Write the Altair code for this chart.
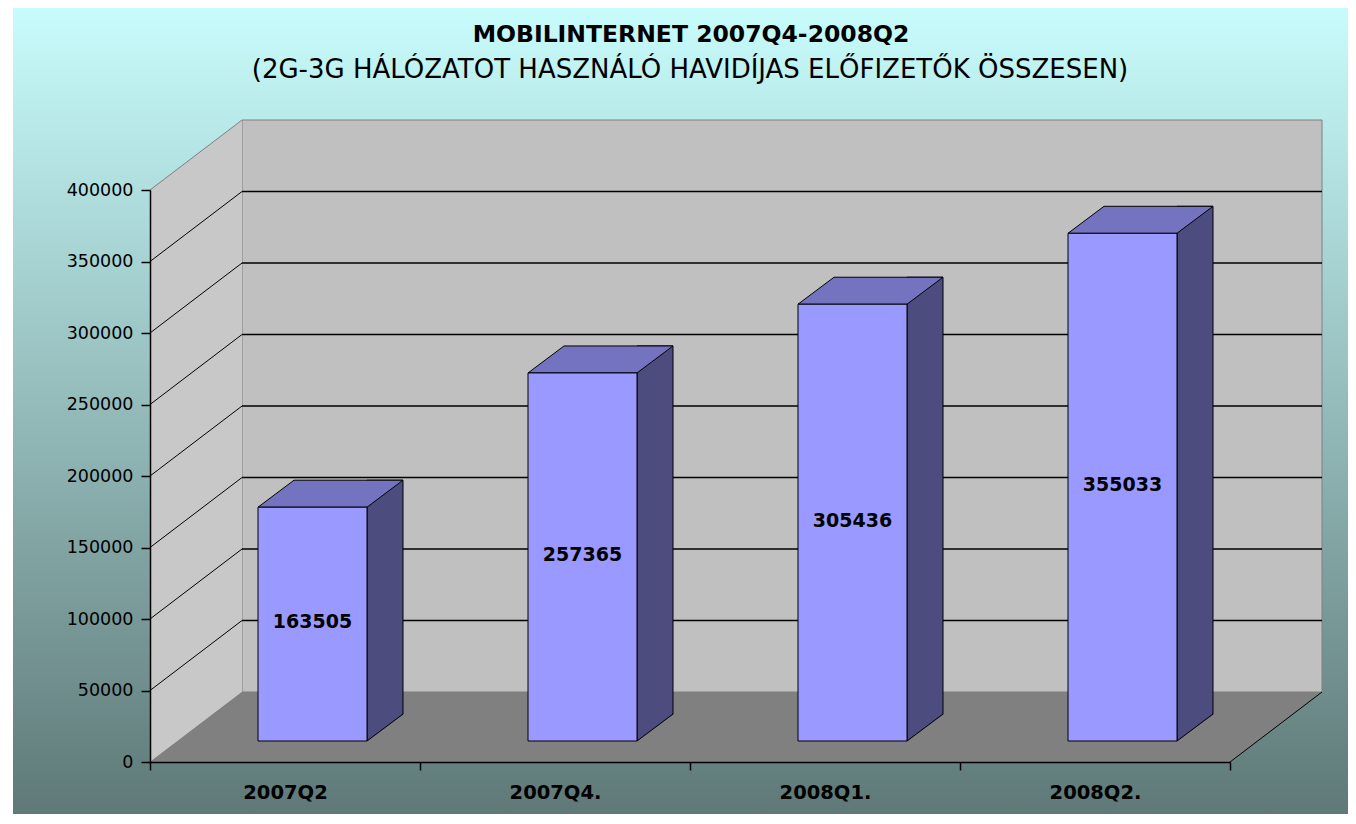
import altair as alt
import pandas as pd

# ---------------- data ----------------
categories = ["2007Q2", "2007Q4.", "2008Q1.", "2008Q2."]
subscribers = [163505, 257365, 305436, 355033]
y_ticks = [0, 50000, 100000, 150000, 200000, 250000, 300000, 350000, 400000]
grid_values = [50000, 100000, 150000, 200000, 250000, 300000, 350000]
title_text = "MOBILINTERNET 2007Q4-2008Q2"
subtitle_text = "(2G-3G HÁLÓZATOT HASZNÁLÓ HAVIDÍJAS ELŐFIZETŐK ÖSSZESEN)"

# ---------------- layout / style ----------------
W, H = 1080, 572            # front plane of the 3D box
DX, DY = 92, 70             # depth of the 3D box (pixels)
BAR_W = 109                 # bar front width
BSX, BSY = 27.5, 21         # shift of bar front plane
BDX, BDY = 36, 27           # bar depth
FONT = "DejaVu Sans"
FRONT, SIDE, TOP = "#9999FF", "#4C4C7F", "#7373C0"
WALL, LWALL, FLOOR = "#C0C0C0", "#C8C8C8", "#808080"


def sym(points, s):
    return "M " + " L ".join(f"{x / s:.4f} {y / s:.4f}" for x, y in points) + " Z"


def sym_open(points, s):
    return "M " + " L ".join(f"{x / s:.4f} {y / s:.4f}" for x, y in points)


df = pd.DataFrame({"cat": categories, "v": subscribers})
one = pd.DataFrame({"k": [0]})
grid_df = pd.DataFrame({"t": grid_values})
top_df = pd.DataFrame({"t": [400000]})
title_df = pd.DataFrame({"t": [title_text]})
subtitle_df = pd.DataFrame({"t": [subtitle_text]})

xs = alt.Scale(domain=categories, paddingInner=0, paddingOuter=0)
ys = alt.Scale(domain=[0, 400000], nice=False, zero=True)

x_axis = alt.Axis(title=None, tickBand="extent", labelAngle=0, labelFont=FONT,
                  labelFontWeight="bold", labelFontSize=19.5, labelColor="black",
                  labelPadding=13, tickSize=8, tickColor="black", tickWidth=1.5,
                  domainColor="black", domainWidth=1.5, zindex=2)
y_axis = alt.Axis(title=None, values=y_ticks, format="d", labelFont=FONT,
                  labelFontSize=17.5, labelColor="black", labelPadding=8,
                  tickSize=9, tickColor="black", tickWidth=1.5,
                  domainColor="black", domainWidth=1.5, grid=False, zindex=2)

Xn = alt.X("cat:N", scale=xs, sort=categories, axis=x_axis)


def Yf(field):
    return alt.Y(field, scale=ys, axis=y_axis)


def Yd(val):
    return alt.YDatum(val, scale=ys, axis=y_axis)


# background gradient
bg = alt.Chart(one).mark_rect(
    color=alt.Gradient(gradient="linear", x1=0, x2=0, y1=0, y2=1,
                       stops=[alt.GradientStop(color="#C8FCFC", offset=0),
                              alt.GradientStop(color="#5C7674", offset=1)])
).encode(x=alt.value(-137), x2=alt.value(W + 140),
         y=alt.value(-182), y2=alt.value(H + 70))

# back wall
back = alt.Chart(one).mark_rect(fill=WALL, stroke=FLOOR, strokeWidth=1,
                                yOffset=-DY, y2Offset=-DY).encode(
    x=alt.value(DX), x2=alt.value(W + DX), y=Yd(400000), y2=alt.datum(0))

# left wall
lw_pts = [(0, 0), (DX, -DY), (DX, H - DY), (0, H)]
lcx, lcy = DX / 2, H / 2 - DY / 2
lw_rel = [(x - lcx, y - lcy) for x, y in lw_pts]
ls = max(max(abs(a), abs(b)) for a, b in lw_rel)
left = alt.Chart(one).mark_point(shape=sym(lw_rel, ls), size=(2 * ls) ** 2,
                                 filled=True, color=LWALL, opacity=1,
                                 yOffset=-DY / 2).encode(
    x=alt.value(lcx), y=Yd(200000))

# floor
fl_pts = [(0, H), (DX, H - DY), (W + DX, H - DY), (W, H)]
fcx, fcy = (W + DX) / 2, H - DY / 2
fl_rel = [(x - fcx, y - fcy) for x, y in fl_pts]
fs = max(max(abs(a), abs(b)) for a, b in fl_rel)
floor = alt.Chart(one).mark_point(shape=sym(fl_rel, fs), size=(2 * fs) ** 2,
                                  filled=True, color=FLOOR, opacity=1,
                                  yOffset=-DY / 2).encode(
    x=alt.value(fcx), y=Yd(0))

# back wall gridlines
bgrid = alt.Chart(grid_df).mark_rule(color="black", strokeWidth=1.5, yOffset=-DY).encode(
    x=alt.value(DX), x2=alt.value(W + DX), y=Yf("t:Q"))

# left wall diagonals
lgrid = alt.Chart(grid_df).mark_rule(color="black", strokeWidth=1, y2Offset=-DY).encode(
    x=alt.value(0), x2=alt.value(DX), y=Yf("t:Q"), y2="t:Q")
ltop = alt.Chart(top_df).mark_rule(color=FLOOR, strokeWidth=1, y2Offset=-DY).encode(
    x=alt.value(0), x2=alt.value(DX), y=Yf("t:Q"), y2="t:Q")

# floor right edge
fedge = alt.Chart(one).mark_rule(color="black", strokeWidth=1, y2Offset=-DY).encode(
    x=alt.value(W), x2=alt.value(W + DX), y=Yd(0), y2=alt.datum(0))

# bar side faces
side_xoff = BSX + BAR_W / 2 + BDX / 2
side = alt.Chart(df).mark_bar(width=BDX, color=SIDE, stroke="black", strokeWidth=1,
                              xOffset=side_xoff, yOffset=-(BSY + BDY),
                              y2Offset=-BSY).encode(
    x=Xn, y=Yf("v:Q"), y2=alt.datum(0))

# cover the part of the side rectangle that lies below the bar's lower edge
tri_rel = [(-BDX / 2 - 1, BDY / 2 + 1), (BDX / 2 + 1.2, BDY / 2 + 1),
           (BDX / 2 + 1.2, -BDY / 2 - 0.3)]
ts = BDX / 2 + 2
cover = alt.Chart(df).mark_point(shape=sym(tri_rel, ts), size=(2 * ts) ** 2,
                                 filled=True, color=FLOOR, opacity=1,
                                 xOffset=side_xoff, yOffset=-BSY - BDY / 2).encode(
    x=Xn, y=Yd(0))
diag_rel = [(-BDX / 2, BDY / 2), (BDX / 2, -BDY / 2)]
dsz = BDX / 2
diag = alt.Chart(df).mark_point(shape=sym_open(diag_rel, dsz), size=(2 * dsz) ** 2,
                                filled=False, color="black", strokeWidth=1, opacity=1,
                                xOffset=side_xoff, yOffset=-BSY - BDY / 2).encode(
    x=Xn, y=Yd(0))

# bar top faces
tp_pts = [(0, 0), (BAR_W, 0), (BAR_W + BDX, -BDY), (BDX, -BDY)]
tcx, tcy = (BAR_W + BDX) / 2, -BDY / 2
tp_rel = [(x - tcx, y - tcy) for x, y in tp_pts]
tps = max(max(abs(a), abs(b)) for a, b in tp_rel)
top = alt.Chart(df).mark_point(shape=sym(tp_rel, tps), size=(2 * tps) ** 2,
                               filled=True, color=TOP, stroke="black", strokeWidth=1,
                               opacity=1, xOffset=BSX - BAR_W / 2 + tcx,
                               yOffset=-BSY + tcy).encode(
    x=Xn, y=Yf("v:Q"))

# bar front faces
front = alt.Chart(df).mark_bar(width=BAR_W, color=FRONT, stroke="black", strokeWidth=1,
                               xOffset=BSX, yOffset=-BSY, y2Offset=-BSY).encode(
    x=Xn, y=Yf("v:Q"), y2=alt.datum(0))

labels = alt.Chart(df).transform_calculate(mid="datum.v / 2").mark_text(
    font=FONT, fontSize=19, fontWeight="bold", color="black", baseline="middle",
    align="center", xOffset=BSX, yOffset=-BSY - 2).encode(
    x=Xn, y=Yf("mid:Q"), text=alt.Text("v:Q", format="d"))

title = alt.Chart(title_df).mark_text(font=FONT, fontSize=23.5, fontWeight="bold",
                                      color="black", align="center",
                                      baseline="alphabetic").encode(
    x=alt.value(W / 2 + 1), y=alt.value(-148.3), text="t:N")
subtitle = alt.Chart(subtitle_df).mark_text(font=FONT, fontSize=26, color="black",
                                            align="center", baseline="alphabetic").encode(
    x=alt.value(W / 2), y=alt.value(-111.7), text="t:N")

chart = alt.layer(
    bg, back, left, floor, bgrid, lgrid, ltop, fedge,
    side, cover, diag, top, front, labels, title, subtitle
).properties(
    width=W, height=H,
    autosize=alt.AutoSizeParams(type="none"),
    padding={"left": 142, "top": 182, "right": 118, "bottom": 52},
).configure_view(stroke=None).configure(background="white")

chart.save("out.html", embed_options={"renderer": "svg", "actions": False})
